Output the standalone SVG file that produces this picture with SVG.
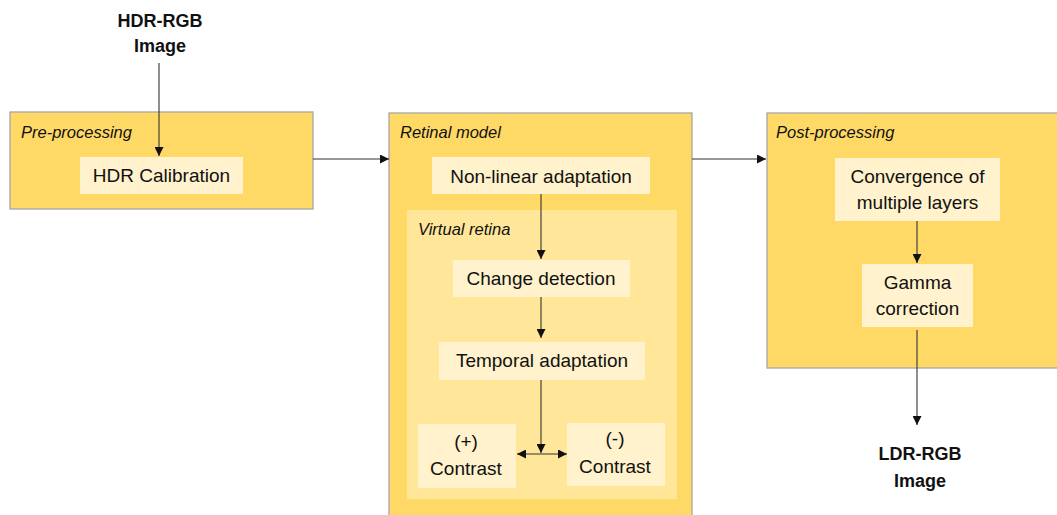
<svg xmlns="http://www.w3.org/2000/svg" width="1057" height="515" viewBox="0 0 1057 515">
<style>
.outer{fill:#FFD966;stroke:#A6A6A6;stroke-width:1.3}
.vr{fill:#FFE699}
.inner{fill:#FFF2CC}
text{font-family:"Liberation Sans",Arial,sans-serif;fill:#111}
.t{font-size:19px;text-anchor:middle}
.lbl{font-size:16.5px;font-style:italic}
.b{font-size:18px;font-weight:bold;text-anchor:middle}
.c{stroke:#333;stroke-width:1.1;fill:none}
</style>
<defs>
<marker id="ah" viewBox="0 0 10 10" refX="10" refY="5" markerWidth="9" markerHeight="9" markerUnits="userSpaceOnUse" orient="auto-start-reverse">
<path d="M0,0 L10,5 L0,10 z" fill="#111"/>
</marker>
</defs>
<rect width="1057" height="515" fill="#fff"/>
<g id="hdr-input">
<text class="b" x="160" y="27">HDR-RGB</text>
<text class="b" x="160" y="52">Image</text>
</g>
<g id="pre-processing">
<rect class="outer" x="10" y="112" width="303" height="97"/>
<text class="lbl" x="21" y="138">Pre-processing</text>
</g>
<g id="hdr-calibration">
<rect class="inner" x="80" y="157" width="163" height="37"/>
<text class="t" x="161.5" y="182">HDR Calibration</text>
</g>
<g id="retinal-model">
<rect class="outer" x="389" y="113" width="303" height="410"/>
<text class="lbl" x="400" y="138">Retinal model</text>
</g>
<g id="non-linear-adaptation">
<rect class="inner" x="432" y="157" width="218" height="37"/>
<text class="t" x="541" y="183">Non-linear adaptation</text>
</g>
<g id="virtual-retina">
<rect class="vr" x="407" y="210" width="270" height="289"/>
<text class="lbl" x="418" y="235">Virtual retina</text>
</g>
<g id="change-detection">
<rect class="inner" x="453" y="260" width="177" height="37"/>
<text class="t" x="541" y="285">Change detection</text>
</g>
<g id="temporal-adaptation">
<rect class="inner" x="439" y="342" width="206" height="38"/>
<text class="t" x="542" y="367">Temporal adaptation</text>
</g>
<g id="pos-contrast">
<rect class="inner" x="418" y="424" width="98" height="64"/>
<text class="t" x="466" y="448">(+)</text>
<text class="t" x="466" y="475">Contrast</text>
</g>
<g id="neg-contrast">
<rect class="inner" x="567" y="423" width="98" height="63"/>
<text class="t" x="615" y="445">(-)</text>
<text class="t" x="615" y="473">Contrast</text>
</g>
<g id="post-processing">
<rect class="outer" x="767" y="113" width="300" height="255"/>
<text class="lbl" x="776" y="138">Post-processing</text>
</g>
<g id="convergence">
<rect class="inner" x="835" y="158" width="165" height="63"/>
<text class="t" x="917.5" y="183">Convergence of</text>
<text class="t" x="917.5" y="209">multiple layers</text>
</g>
<g id="gamma-correction">
<rect class="inner" x="862" y="264" width="111" height="63"/>
<text class="t" x="917.5" y="289">Gamma</text>
<text class="t" x="917.5" y="315">correction</text>
</g>
<g id="ldr-output">
<text class="b" x="920" y="460">LDR-RGB</text>
<text class="b" x="920" y="487">Image</text>
</g>
<g id="connectors">
<path class="c" d="M159,63 V156" marker-end="url(#ah)"/>
<path class="c" d="M313,159 H389" marker-end="url(#ah)"/>
<path class="c" d="M692,159 H766" marker-end="url(#ah)"/>
<path class="c" d="M541,194 V259" marker-end="url(#ah)"/>
<path class="c" d="M541,297 V338" marker-end="url(#ah)"/>
<path class="c" d="M541,380 V453" marker-end="url(#ah)"/>
<path class="c" d="M517,454 H567" marker-start="url(#ah)" marker-end="url(#ah)"/>
<path class="c" d="M917,221 V263" marker-end="url(#ah)"/>
<path class="c" d="M917,330 V425" marker-end="url(#ah)"/>
</g>
</svg>
